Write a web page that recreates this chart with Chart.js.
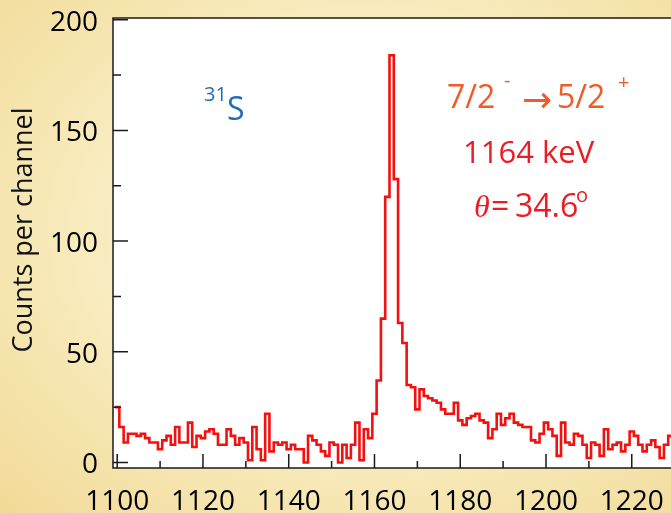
<!DOCTYPE html>
<html>
<head>
<meta charset="utf-8">
<script src="https://cdn.jsdelivr.net/npm/chart.js@4.4.1/dist/chart.umd.min.js"></script>
<style>
html,body{margin:0;padding:0;}
body{width:671px;height:513px;overflow:hidden;
  background:radial-gradient(ellipse at 55% 45%, #fcf6dc 0%, #f8ebbd 55%, #f1da97 100%);}
#wrap{position:relative;width:671px;height:513px;}
</style>
</head>
<body>
<div id="wrap"><canvas id="spec" width="671" height="513"></canvas></div>
<script>
// gamma spectrum, 1 keV channels starting at 1100 keV
const firstChannel = 1100
const counts = [
  25,16,9,13,13,12,13,11,9,9,
  6,10,12,8,16,9,9,18,7,12,
  11,14,15,13,8,8,15,12,8,11,
  9,1,16,6,1,22,5,9,8,9,
  6,8,6,6,0,12,10,8,5,3,
  9,8,0,8,2,8,18,1,15,11,
  22,37,65,120,184,128,63,54,35,34,
  24,33,30,29,28,27,24,22,22,27,
  19,17,20,21,22,19,18,11,15,22,
  17,20,22,18,17,16,16,10,9,13,
  18,15,12,3,18,9,8,13,12,8,
  2,9,8,3,15,6,8,9,5,8,
  14,12,8,5,8,10,7,2,8,12
]
const xTicks = [1100, 1120, 1140, 1160, 1180, 1200, 1220]
const xMinor = [1110, 1130, 1150, 1170, 1190, 1210]
const yTicks = [0, 50, 100, 150, 200]
const yMinor = [25, 75, 125, 175]

const channels = counts.map((c, i) => firstChannel + i)
// step line: each channel drawn from its lower edge to its upper edge
const steps = channels.map((ch, i) => ({x: ch - 0.5, y: counts[i]}))
steps.push({x: channels[channels.length - 1] + 0.5, y: counts[counts.length - 1]})

const FONT = '"Open Sans", "Noto Sans", sans-serif'

const frame = {
  id: 'frame',
  beforeDraw(chart) {
    const {ctx, chartArea: a} = chart
    ctx.save()
    ctx.fillStyle = '#ffffff'
    ctx.fillRect(a.left, a.top, a.right - a.left + 2, a.bottom - a.top)
    ctx.restore()
  },
  afterDraw(chart) {
    const {ctx, chartArea: a, scales} = chart
    const x = scales.x, y = scales.y
    ctx.save()
    ctx.strokeStyle = '#1a1a1a'
    ctx.lineWidth = 1.5
    ctx.beginPath()
    ctx.moveTo(a.right + 2, a.top)
    ctx.lineTo(a.left, a.top)
    ctx.lineTo(a.left, a.bottom)
    ctx.lineTo(a.right + 2, a.bottom)
    // inward ticks
    xTicks.forEach(v => { const p = x.getPixelForValue(v); ctx.moveTo(p, a.bottom); ctx.lineTo(p, a.bottom - 14) })
    xMinor.forEach(v => { const p = x.getPixelForValue(v); ctx.moveTo(p, a.bottom); ctx.lineTo(p, a.bottom - 7) })
    yTicks.forEach(v => { const p = y.getPixelForValue(v); ctx.moveTo(a.left, p); ctx.lineTo(a.left + 15, p) })
    yMinor.forEach(v => { const p = y.getPixelForValue(v); ctx.moveTo(a.left, p); ctx.lineTo(a.left + 8, p) })
    ctx.stroke()

    // axis title
    ctx.save()
    ctx.translate(32, 230)
    ctx.rotate(-Math.PI / 2)
    ctx.fillStyle = '#111'
    ctx.font = '27px ' + FONT
    ctx.textAlign = 'center'
    ctx.textBaseline = 'alphabetic'
    ctx.fillText('Counts per channel', 0, 0)
    ctx.restore()

    ctx.textAlign = 'left'
    ctx.textBaseline = 'alphabetic'
    // nucleus
    ctx.fillStyle = '#1f6db5'
    ctx.font = '20px ' + FONT
    ctx.fillText('31', 204, 101)
    ctx.font = '32px ' + FONT
    ctx.fillText('S', 227, 120)
    // transition
    ctx.fillStyle = '#f15a29'
    ctx.font = '32px ' + FONT
    ctx.fillText('7/2', 447, 108)
    ctx.font = '20px ' + FONT
    ctx.fillText('-', 504, 87)
    ctx.font = '36px "DejaVu Sans", sans-serif'
    ctx.fillText('\u2192', 522, 112)
    ctx.font = '32px ' + FONT
    ctx.fillText('5/2', 557, 108)
    ctx.font = '20px ' + FONT
    ctx.fillText('+', 618, 89)
    // energy and angle
    ctx.fillStyle = '#ec1c24'
    ctx.font = '31px ' + FONT
    ctx.fillText('1164 keV', 463, 163)
    ctx.font = 'italic 32px "Liberation Serif", serif'
    ctx.fillText('\u03b8', 474, 217)
    ctx.font = '32px ' + FONT
    ctx.fillText('=', 491, 217)
    ctx.fillText('34.6', 515, 217)
    ctx.font = '20px ' + FONT
    ctx.fillText('o', 576, 202)
    ctx.restore()
  }
}

new Chart(document.getElementById('spec'), {
  type: 'line',
  data: {
    datasets: [{
      data: steps,
      stepped: 'before',
      borderColor: '#f50f0f',
      borderWidth: 2.6,
      borderJoinStyle: 'miter',
      pointRadius: 0,
      fill: false,
      clip: {left: 0, top: 0, right: 4, bottom: 0}
    }]
  },
  options: {
    responsive: false,
    animation: false,
    devicePixelRatio: 1,
    layout: {padding: {left: 0, top: 18, right: 0, bottom: 0}},
    plugins: {legend: {display: false}, tooltip: {enabled: false}},
    scales: {
      x: {
        type: 'linear',
        min: 1099.02,
        max: 1229.15,
        grid: {display: false, drawTicks: false},
        border: {display: false},
        afterFit(s) { s.height = 45; s.paddingLeft = 0; s.paddingRight = 0 },
        afterBuildTicks(s) { s.ticks = xTicks.map(v => ({value: v})) },
        ticks: {autoSkip: false, maxRotation: 0, padding: 17, color: '#000',
          callback: v => String(v),
          font: {family: FONT, size: 28}}
      },
      y: {
        min: -2.5,
        max: 200.8,
        grid: {display: false, drawTicks: false},
        border: {display: false},
        afterFit(s) { s.width = 113; s.paddingTop = 0; s.paddingBottom = 0 },
        afterBuildTicks(s) { s.ticks = yTicks.map(v => ({value: v})) },
        ticks: {padding: 15, labelOffset: 3, color: '#000',
          font: {family: FONT, size: 28}}
      }
    }
  },
  plugins: [frame]
})
</script>
</body>
</html>
